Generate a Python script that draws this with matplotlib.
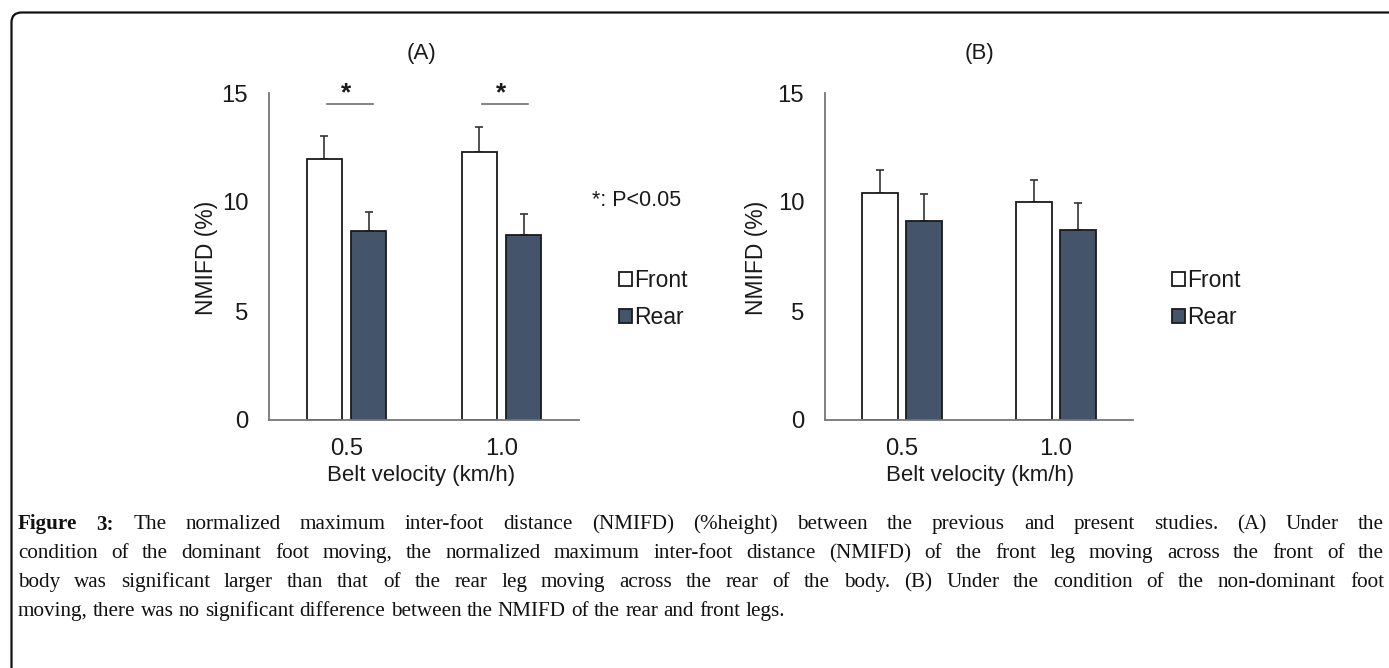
import matplotlib
matplotlib.use("Agg")
import matplotlib.pyplot as plt
import numpy as np
from matplotlib.patches import FancyBboxPatch

# ---------------- data ----------------
categories = ["0.5", "1.0"]
series_names = ["Front", "Rear"]
a_front = [11.95, 12.3]
a_front_err = [1.1, 1.13]
a_rear = [8.65, 8.47]
a_rear_err = [0.87, 0.97]
b_front = [10.43, 10.02]
b_front_err = [1.04, 0.99]
b_rear = [9.13, 8.72]
b_rear_err = [1.22, 1.22]
yticks = [0, 5, 10, 15]
panel_titles = ["(A)", "(B)"]
xlabel = "Belt velocity (km/h)"
ylabel = "NMIFD (%)"
sig_note = "*: P<0.05"
caption_lines = [
    "Figure 3: The normalized maximum inter-foot distance (NMIFD) (%height) between the previous and present studies. (A) Under the",
    "condition of the dominant foot moving, the normalized maximum inter-foot distance (NMIFD) of the front leg moving across the front of the",
    "body was significant larger than that of the rear leg moving across the rear of the body. (B) Under the condition of the non-dominant foot",
    "moving, there was no significant difference between the NMIFD of the rear and front legs.",
]

W, H = 1389, 668
DPI = 100
plt.rcParams["font.family"] = ["Liberation Sans", "DejaVu Sans"]
fig = plt.figure(figsize=(W / DPI, H / DPI), dpi=DPI)
fig.patch.set_facecolor("white")

FRONT_FACE = "white"
REAR_FACE = "#44546A"
EDGE = "#1a1a1a"
AXC = "#767676"
TXT = "#1a1a1a"


def px_axes(x0, x1, y_top, y_bot):
    return fig.add_axes([x0 / W, (H - y_bot) / H, (x1 - x0) / W, (y_bot - y_top) / H])


def draw_panel(ax, front, front_err, rear, rear_err):
    x = np.arange(len(categories))
    w = 0.232
    off = 0.142
    b1 = ax.bar(x - off, front, w, color=FRONT_FACE, edgecolor=EDGE, linewidth=1.3,
                label=series_names[0], zorder=2)
    b2 = ax.bar(x + off, rear, w, color=REAR_FACE, edgecolor=EDGE, linewidth=1.3,
                label=series_names[1], zorder=2)
    for xs, ys, es in [(x - off, front, front_err), (x + off, rear, rear_err)]:
        ax.errorbar(xs, ys, yerr=[np.zeros(len(es)), es], fmt="none", ecolor="#333333",
                    elinewidth=1.2, capsize=3, capthick=1.2, zorder=1)
    ax.set_xlim(-0.5, 1.5)
    ax.set_ylim(0, 15)
    ax.set_yticks(yticks)
    ax.set_xticks(x)
    ax.set_xticklabels(categories)
    ax.tick_params(axis="both", length=0, labelsize=17.2, colors=TXT)
    ax.tick_params(axis="y", pad=15)
    ax.tick_params(axis="x", pad=13)
    for s in ["top", "right"]:
        ax.spines[s].set_visible(False)
    for s in ["left", "bottom"]:
        ax.spines[s].set_color(AXC)
        ax.spines[s].set_linewidth(1.3)
    ax.set_facecolor("none")
    return b1, b2


# Panel A
axA = px_axes(269, 579, 93, 420)
hA = draw_panel(axA, a_front, a_front_err, a_rear, a_rear_err)
# significance markers
for i in range(len(categories)):
    axA.plot([i - 0.126, i + 0.171], [14.5, 14.5], color="#6e6e6e", lw=1.2, clip_on=False)
    axA.text(i - 0.005, 15.0, "*", ha="center", va="center", fontsize=19,
             fontweight="bold", color=TXT, clip_on=False)

# Panel B
axB = px_axes(825, 1133, 93, 420)
hB = draw_panel(axB, b_front, b_front_err, b_rear, b_rear_err)


def ftext(x, y, s, **kw):
    return fig.text(x / W, (H - y) / H, s, **kw)

ftext(421, 53, panel_titles[0], ha="center", va="center", fontsize=16, color=TXT)
ftext(980, 53, panel_titles[1], ha="center", va="center", fontsize=16, color=TXT)
ftext(421, 476, xlabel, ha="center", va="center", fontsize=16, color=TXT)
ftext(980, 476, xlabel, ha="center", va="center", fontsize=16, color=TXT)
ftext(206, 258, ylabel, ha="center", va="center", rotation=90, fontsize=16.5, color=TXT)
ftext(756, 258, ylabel, ha="center", va="center", rotation=90, fontsize=16.5, color=TXT)
ftext(592, 200, sig_note, ha="left", va="center", fontsize=15.5, color=TXT)

# legends
for handles, xpx in [(hA, 610), (hB, 1163)]:
    leg = fig.legend(handles=list(handles), labels=series_names, loc="center left",
                     bbox_to_anchor=(xpx / W, (H - 299) / H), frameon=False,
                     fontsize=16.5, handlelength=0.55, handleheight=0.55,
                     handletextpad=0.12, labelspacing=0.6, borderaxespad=0)
    for t in leg.get_texts():
        t.set_color(TXT)

# border (rounded, open to right/bottom)
border = FancyBboxPatch((0.115, -1.0), 20, 6.555 + 1.0,
                        boxstyle="round,pad=0,rounding_size=0.1",
                        transform=fig.dpi_scale_trans, fill=False,
                        edgecolor="#111111", linewidth=1.6)
fig.patches.append(border)

# caption, justified
fig.canvas.draw()
renderer = fig.canvas.get_renderer()
cap_font = ["Liberation Serif", "DejaVu Serif"]
cap_size = 15.2
x_left, x_right = 18, 1384
line_y = [522, 551, 580, 609]


def word_width(s, bold):
    t = fig.text(0, 0, s, fontsize=cap_size, family=cap_font,
                 fontweight="bold" if bold else "normal")
    bb = t.get_window_extent(renderer)
    t.remove()
    return bb.width

space_w = word_width("a a", False) - 2 * word_width("a", False)

for li, line in enumerate(caption_lines):
    words = line.split(" ")
    bold = [li == 0 and wi < 2 for wi in range(len(words))]
    widths = [word_width(wd, b) for wd, b in zip(words, bold)]
    if li < len(caption_lines) - 1:
        gap = (x_right - x_left - sum(widths)) / (len(words) - 1)
    else:
        gap = space_w
    x = x_left
    for wd, wdt, b in zip(words, widths, bold):
        ftext(x, line_y[li], wd, ha="left", va="center_baseline", fontsize=cap_size,
              family=cap_font, fontweight="bold" if b else "normal", color="#111111")
        x += wdt + gap

fig.savefig("out.png", dpi=DPI, facecolor="white")
